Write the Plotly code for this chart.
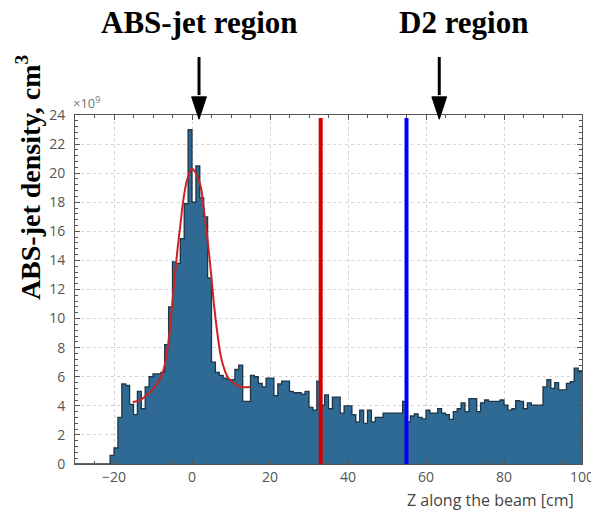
import plotly.graph_objects as go

# Histogram of the jet density along the beam axis (1 cm bins, left edges)
bin_left = list(range(-30, 100))
density = (
    [0.0] * 9 +
    # -21 .. -1
    [0.6, 1.1, 3.2, 5.5, 5.4, 4.1, 3.4, 5.0, 3.8, 5.3,
     6.0, 6.2, 6.2, 6.3, 8.2, 10.8, 13.9, 13.8, 15.5, 17.9] +
    # -1 .. 13
    [23.0, 18.0, 20.5, 18.3, 17.0, 12.8, 7.0, 6.3, 6.1, 5.9,
     5.8, 5.8, 6.5, 6.8] +
    # 13 .. 33
    [4.3, 4.3, 6.1, 6.0, 5.55, 5.3, 5.9, 5.9, 4.7, 5.5,
     5.7, 5.7, 5.0, 4.9, 4.9, 4.8, 5.0, 3.9, 3.7, 5.7] +
    # 33 .. 55
    [4.05, 4.75, 3.8, 4.6, 4.6, 3.5, 4.0, 4.0, 3.4, 2.9,
     3.7, 2.8, 3.7, 2.9, 3.2, 3.2, 3.5, 3.5, 3.5, 3.5,
     3.5, 4.3] +
    # 55 .. 100
    [2.9, 3.3, 3.45, 3.2, 3.1, 3.7, 3.5, 3.5, 3.8, 3.5,
     3.4, 3.07, 3.6, 3.8, 4.2, 3.6, 4.5, 4.5, 3.6, 4.2,
     4.4, 4.3, 4.3, 4.3, 4.4, 4.05, 3.7, 3.8, 4.35, 4.3,
     3.8, 4.2, 4.05, 4.05, 4.05, 5.3, 5.8, 5.2, 5.6, 5.1,
     5.1, 5.55, 5.66, 6.6, 6.35]
)
bin_width = 1.0

# Peak fit curve (points along the fitted shape)
fit_z = [-15.2, -13, -11, -9, -7.5, -6.5, -5.6, -4.8, -3.9, -3.0, -2.2, -1.2,
         0.0, 1.0, 2.3, 3.0, 4.0, 5.0, 5.7, 6.5, 7.4, 8.2, 9.1, 10.5, 12.5, 15.0]
fit_val = [4.25, 4.45, 4.9, 5.5, 6.3, 7.5, 9.4, 11.8, 14.3, 16.4, 18.2, 19.6,
           20.3, 20.0, 19.0, 17.6, 15.4, 12.8, 10.8, 9.0, 7.4, 6.6, 6.0, 5.6, 5.3, 5.3]

# Region boundaries and markers
red_boundary = 33
blue_boundary = 55
line_top = 23.8
arrow_abs_z = 1.8
arrow_d2_z = 63.4
label_abs_z = 1.8
label_d2_z = 69.5

x_range = [-30, 100]
y_range = [0, 24]

centers = [b + bin_width / 2 for b in bin_left]
step_x = bin_left + [bin_left[-1] + bin_width]
step_y = density + [density[-1]]

fig = go.Figure()
fig.add_trace(go.Bar(
    x=centers, y=density, width=bin_width,
    marker=dict(color="#2e6a93", line=dict(width=0)),
    hoverinfo="skip", showlegend=False))
fig.add_trace(go.Scatter(
    x=step_x, y=step_y, mode="lines", line=dict(shape="hv", color="#1f3646", width=1.3),
    hoverinfo="skip", showlegend=False))
fig.add_trace(go.Scatter(
    x=fit_z, y=fit_val, mode="lines", line=dict(shape="spline", color="#cc2222", width=2),
    hoverinfo="skip", showlegend=False))

# Vertical region boundaries
fig.add_shape(type="line", xref="x", yref="y", x0=red_boundary, x1=red_boundary,
              y0=0, y1=line_top, line=dict(color="#d40000", width=4), layer="above")
fig.add_shape(type="line", xref="x", yref="y", x0=blue_boundary, x1=blue_boundary,
              y0=0, y1=line_top, line=dict(color="#0000ff", width=4), layer="above")

# Downward arrows above the frame
ARROW_TOP, HEAD_BASE, HEAD_TIP, HEAD_HALF = 1.166, 1.052, 0.988, 1.9


def add_arrow(z):
    fig.add_shape(type="line", xref="x", yref="paper", x0=z, x1=z,
                  y0=ARROW_TOP, y1=HEAD_BASE + 0.005,
                  line=dict(color="black", width=3))
    fig.add_shape(type="path", xref="x", yref="paper",
                  path=f"M {z - HEAD_HALF},{HEAD_BASE} L {z + HEAD_HALF},{HEAD_BASE} L {z},{HEAD_TIP} Z",
                  fillcolor="black", line=dict(color="black", width=1))


add_arrow(arrow_abs_z)
add_arrow(arrow_d2_z)

title_font = dict(family="Liberation Serif", size=31, color="black")
fig.add_annotation(text="<b>ABS-jet region</b>", xref="x", yref="paper",
                   x=label_abs_z, y=1.266, showarrow=False, font=title_font,
                   xanchor="center", yanchor="middle")
fig.add_annotation(text="<b>D2 region</b>", xref="x", yref="paper",
                   x=label_d2_z, y=1.266, showarrow=False, font=title_font,
                   xanchor="center", yanchor="middle")
fig.add_annotation(text="<b>ABS-jet density, cm<sup>3</sup></b>", xref="paper", yref="paper",
                   x=-0.0927, y=0.822, textangle=-90, showarrow=False,
                   font=dict(family="Liberation Serif", size=28, color="black"),
                   xanchor="center", yanchor="middle")
fig.add_annotation(text="×10<sup>9</sup>", xref="paper", yref="paper",
                   x=-0.008, y=1.037, showarrow=False, xanchor="left", yanchor="middle",
                   font=dict(family="Open Sans", size=13, color="#777"))
fig.add_annotation(text="Z along the beam [cm]", xref="paper", yref="paper",
                   x=0.988, y=-0.103, showarrow=False, xanchor="right", yanchor="middle",
                   font=dict(family="Open Sans", size=16, color="#444"))

axis_common = dict(
    ticks="inside", ticklen=5, tickcolor="#555", tickwidth=1,
    showline=True, linecolor="#555", linewidth=1, mirror="ticks",
    showgrid=True, gridcolor="#d4d4d4", griddash="dot", gridwidth=1,
    zeroline=False, tickfont=dict(family="Open Sans", size=14, color="#555"),
    ticklabeloverflow="allow", automargin=False,
)
fig.update_xaxes(range=x_range, dtick=20, tick0=0,
                 minor=dict(dtick=5, ticks="inside", ticklen=3, tickcolor="#555", showgrid=False),
                 **axis_common)
fig.update_yaxes(range=y_range, dtick=2, tick0=0,
                 minor=dict(dtick=0.4, ticks="inside", ticklen=3, tickcolor="#555", showgrid=False),
                 ticklabelstandoff=6, **axis_common)

fig.update_layout(
    width=591, height=512,
    margin=dict(l=75, r=9, t=115, b=48, autoexpand=False),
    paper_bgcolor="white", plot_bgcolor="white",
    bargap=0, showlegend=False,
)

fig.write_html("out.html")
